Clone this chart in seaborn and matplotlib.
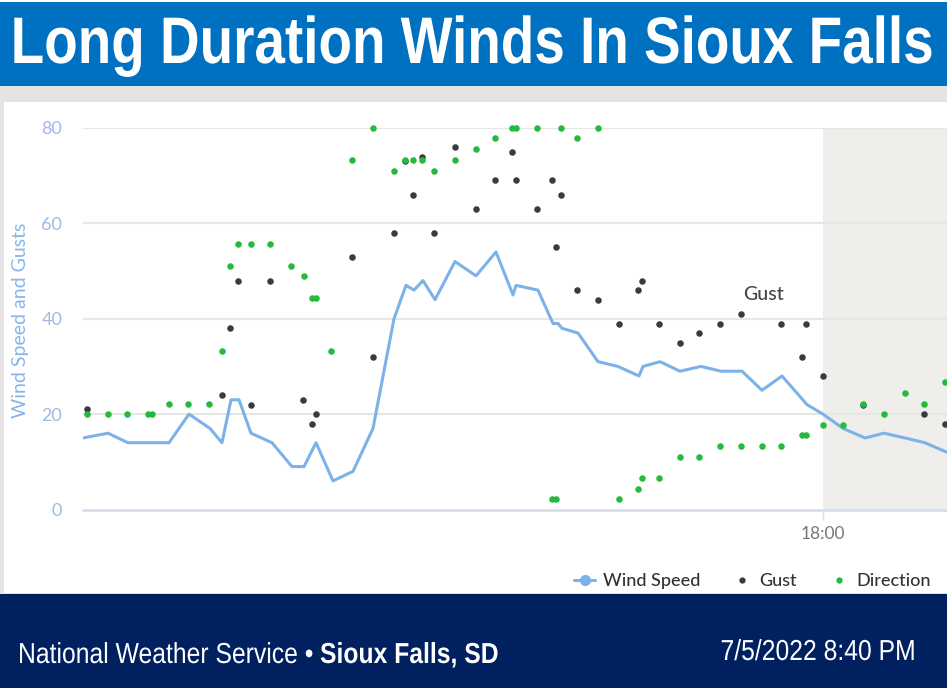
import matplotlib
matplotlib.use('Agg')
import matplotlib.pyplot as plt
from matplotlib.lines import Line2D
from matplotlib.patches import Rectangle
from matplotlib.patheffects import AbstractPathEffect
from matplotlib.transforms import Affine2D
import pandas as pd
import seaborn as sns

# times are minutes relative to 18:00
wind_time = [-740, -715, -695, -654, -634, -613, -601, -592, -584, -572, -551, -531, -519, -507,
             -490, -470, -450, -429, -417, -409, -400, -388, -368, -347, -327, -310, -307, -285,
             -270, -265, -261, -245, -225, -205, -184, -180, -163, -143, -122, -102, -81, -61,
             -41, -16, 0, 20, 42, 61, 82, 102, 124]
wind_speed = [15, 16, 14, 14, 20, 17, 14, 23, 23, 16, 14, 9, 9, 14,
              6, 8, 17, 40, 47, 46, 48, 44, 52, 49, 54, 45, 47, 46,
              39, 39, 38, 37, 31, 30, 28, 30, 31, 29, 30, 29, 29, 25,
              28, 22, 20, 17, 15, 16, 15, 14, 12]

gust_time = [-736, -601, -593, -585, -572, -553, -520, -511, -507, -471, -450, -429, -418, -410,
             -401, -389, -368, -347, -328, -311, -307, -286, -271, -267, -262, -246, -225, -204,
             -185, -181, -164, -143, -124, -103, -82, -42, -21, -17, 0, 40, 101, 122]
gust_speed = [21, 24, 38, 48, 22, 48, 23, 18, 20, 53, 32, 58, 73, 66,
              74, 58, 76, 63, 69, 75, 69, 63, 69, 55, 66, 46, 44, 39,
              46, 48, 39, 35, 37, 39, 41, 39, 32, 39, 28, 22, 20, 18]

dir_time = [-736, -715, -696, -675, -671, -654, -635, -614, -601, -593, -585, -572, -553, -532,
            -519, -511, -507, -492, -471, -450, -429, -418, -410, -401, -389, -368, -347, -328,
            -311, -307, -286, -271, -267, -262, -246, -225, -204, -185, -181, -164, -143, -124,
            -103, -82, -61, -42, -21, -17, 0, 20, 40, 61, 82, 101, 122]
dir_value = [20, 20, 20, 20, 20, 22.2, 22.2, 22.2, 33.3, 51, 55.6, 55.6, 55.6, 51,
             48.9, 44.4, 44.4, 33.3, 73.3, 80, 71, 73.3, 73.3, 73.3, 71, 73.3, 75.6, 77.8,
             80, 80, 80, 2.2, 2.2, 80, 77.8, 80, 2.2, 4.4, 6.7, 6.7, 11.1, 11.1,
             13.3, 13.3, 13.3, 13.3, 15.6, 15.6, 17.8, 17.8, 22.2, 20, 24.4, 22.2, 26.7]

y_ticks = [0, 20, 40, 60, 80]

LINE_BLUE = '#7cb2e8'
GUST_DARK = '#3c3a3c'
DIR_GREEN = '#22bb3e'
TICK_BLUE = '#9dbbe2'
BANNER_FONT = ['Liberation Sans', 'DejaVu Sans']

W, H = 947, 688


class TallText(AbstractPathEffect):
    # the banner lettering is condensed: stretch the glyphs upward from the baseline
    def __init__(self, baseline_px, stretch):
        super().__init__()
        self.base = H - baseline_px
        self.stretch = stretch

    def draw_path(self, renderer, gc, tpath, affine, rgbFace=None):
        tall = affine + Affine2D().translate(0, -self.base).scale(1, self.stretch).translate(0, self.base)
        renderer.draw_path(gc, tpath, tall, rgbFace)


sns.set_theme(style='white')
plt.rcParams['font.family'] = ['Lato', 'DejaVu Sans']

fig = plt.figure(figsize=(W / 100, H / 100), dpi=100, facecolor='#e4e4e4')


def band(x0, y0, x1, y1, color):
    # rectangle given in image pixels, y from the top
    fig.add_artist(Rectangle((x0 / W, 1 - y1 / H), (x1 - x0) / W, (y1 - y0) / H,
                             transform=fig.transFigure, facecolor=color, edgecolor='none', zorder=0))


def banner_text(x, baseline, text, size, stretch, **kw):
    fig.text(x / W, 1 - baseline / H, text, color='white', fontsize=size, family=BANNER_FONT,
             va='baseline', path_effects=[TallText(baseline, stretch)], **kw)


band(0, 0, W, 2, 'white')
band(0, 2, W, 86, '#0070c0')
band(4, 102, W, 593, 'white')
band(0, 594, W, H, '#002060')

ax = fig.add_axes([83 / W, 1 - 509.5 / H, (W - 83) / W, (509.5 - 128) / H])
ax.patch.set_alpha(0)
ax.set_xlim(-740, 124)
ax.set_ylim(0, 80)

ax.axvspan(0, 124, facecolor='#f0eeea', edgecolor='none', zorder=0)
for tick in y_ticks[1:]:
    ax.axhline(tick, color='#e6e6e6', lw=1.5, zorder=1)
ax.axhline(0, color='#d5deec', lw=2, zorder=1, clip_on=False)

wind_df = pd.DataFrame({'time': wind_time, 'speed': wind_speed})
gust_df = pd.DataFrame({'time': gust_time, 'speed': gust_speed})
dir_df = pd.DataFrame({'time': dir_time, 'value': dir_value})

sns.lineplot(data=wind_df, x='time', y='speed', color=LINE_BLUE, lw=2.2, ax=ax, zorder=2,
             estimator=None, sort=False)
sns.scatterplot(data=gust_df, x='time', y='speed', color=GUST_DARK, s=22, linewidth=0, ax=ax,
                zorder=3, clip_on=False)
sns.scatterplot(data=dir_df, x='time', y='value', color=DIR_GREEN, s=22, linewidth=0, ax=ax,
                zorder=4, clip_on=False)

sns.despine(ax=ax, left=True, bottom=True, top=True, right=True)
ax.set_xlabel('')
ax.set_ylabel('Wind Speed and Gusts', color='#85b6ea', fontsize=14, labelpad=0)
ax.yaxis.set_label_coords(-54 / (W - 83), 0.497)
ax.set_yticks(y_ticks)
ax.set_yticklabels([str(t) for t in y_ticks], color=TICK_BLUE, fontsize=13)
ax.tick_params(axis='y', length=0, pad=15)
ax.set_xticks([0])
ax.set_xticklabels(['18:00'], color='#777777', fontsize=12.5)
ax.tick_params(axis='x', length=7, width=1, color='#d5deec', pad=5, bottom=True)

ax.text(-59, 45, 'Gust', color='#444444', fontsize=14, fontweight='medium', ha='center', va='center')

handles = [
    Line2D([], [], color=LINE_BLUE, lw=2.2, marker='o', ms=7, label='Wind Speed'),
    Line2D([], [], color='none', marker='o', mfc=GUST_DARK, mec='none', ms=4.5, label='Gust'),
    Line2D([], [], color='none', marker='o', mfc=DIR_GREEN, mec='none', ms=4.5, label='Direction'),
]
fig.legend(handles=handles, ncol=3, frameon=False, loc='center right',
           bbox_to_anchor=(931 / W, 1 - 581 / H), prop={'size': 13, 'weight': 'medium'},
           labelcolor='#333333', handlelength=1.15, handletextpad=0.42, columnspacing=1.72,
           borderaxespad=0, borderpad=0)

banner_text(472, 63, 'Long Duration Winds In Sioux Falls', 39.5, 1.2, fontweight='bold', ha='center')
banner_text(18, 663, 'National Weather Service •', 17.8, 1.17, ha='left')
banner_text(320, 663, 'Sioux Falls, SD', 17.8, 1.17, fontweight='bold', ha='left')
banner_text(916, 660, '7/5/2022 8:40 PM', 17.8, 1.17, ha='right')

fig.savefig('out.png', dpi=100, facecolor=fig.get_facecolor())
plt.close(fig)
